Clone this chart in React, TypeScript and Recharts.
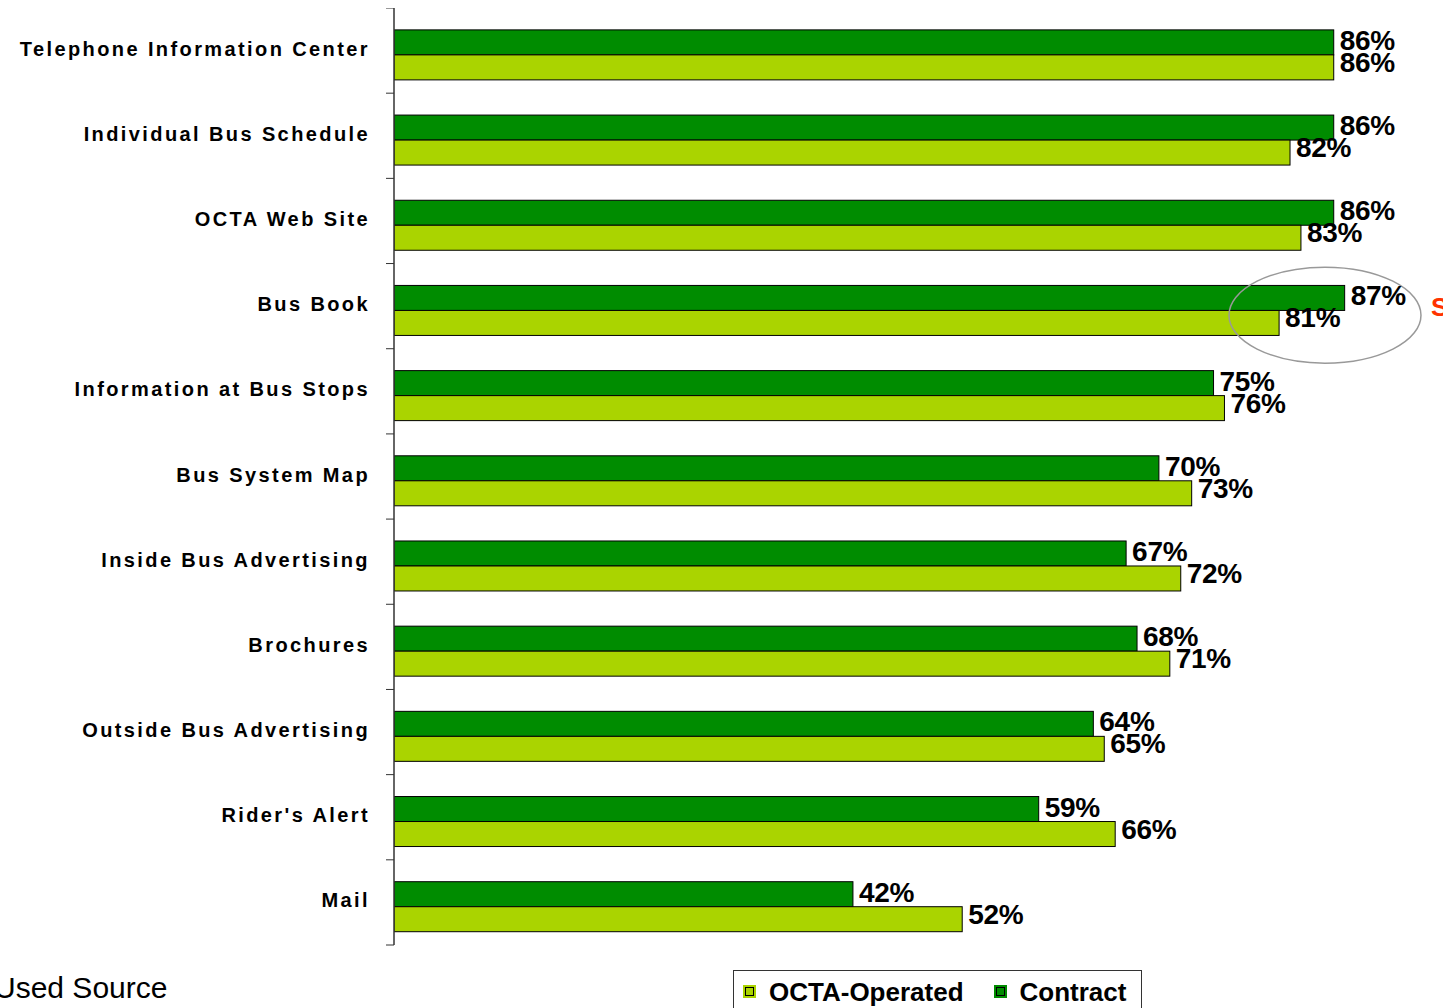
import { BarChart, Bar, XAxis, YAxis, LabelList, ReferenceDot } from "recharts";

const categories = [
  "Telephone Information Center",
  "Individual Bus Schedule",
  "OCTA Web Site",
  "Bus Book",
  "Information at Bus Stops",
  "Bus System Map",
  "Inside Bus Advertising",
  "Brochures",
  "Outside Bus Advertising",
  "Rider's Alert",
  "Mail",
];

const contract = [86, 86, 86, 87, 75, 70, 67, 68, 64, 59, 42];
const octaOperated = [86, 82, 83, 81, 76, 73, 72, 71, 65, 66, 52];

const COLORS = {
  contract: "#008C00",
  octa: "#AAD400",
};

const FONT = '"Liberation Sans", Arial, sans-serif';

const data = categories.map((name, i) => ({
  name,
  contract: contract[i],
  octa: octaOperated[i],
}));

const AXIS_X = 386;
const PLOT_H = 937;
const BAND = PLOT_H / categories.length;
const BAR_SHIFT = 4; // bars sit a little below the band centre in the original

function CategoryTick(props: any) {
  const { y, payload, index } = props;
  const top = y - BAND / 2;
  return (
    <g>
      <line x1={AXIS_X - 8} x2={AXIS_X} y1={top} y2={top} stroke="#333" />
      {index === categories.length - 1 && (
        <line x1={AXIS_X - 8} x2={AXIS_X} y1={top + BAND} y2={top + BAND} stroke="#333" />
      )}
      <text
        x={362}
        y={y - 2}
        textAnchor="end"
        dominantBaseline="central"
        fontFamily={FONT}
        fontWeight="bold"
        fontSize={20}
        letterSpacing={2.4}
        fill="#000"
      >
        {payload.value}
      </text>
    </g>
  );
}

function shiftedBar(props: any) {
  const { x, y, width, height, fill } = props;
  return <rect x={x} y={y + BAR_SHIFT} width={width} height={height} fill={fill} stroke="#000" strokeWidth={1} />;
}

function valueLabel(shift: number) {
  return (props: any) => {
    const { x, y, width, height, value } = props;
    return (
      <text
        x={x + width + 6}
        y={y + height / 2 + BAR_SHIFT + shift}
        dominantBaseline="central"
        fontFamily={FONT}
        fontWeight="bold"
        fontSize={28}
        letterSpacing={-0.3}
        fill="#000"
      >
        {value}%
      </text>
    );
  };
}

function LegendSwatch({ color }: { color: string }) {
  return (
    <span
      style={{
        display: "inline-block",
        width: 9,
        height: 9,
        background: color,
        border: `2px solid ${color}`,
        boxShadow: "inset 0 0 0 1px #000",
        marginRight: 13,
        verticalAlign: "middle",
        position: "relative",
        top: -3,
      }}
    />
  );
}

export default function App() {
  return (
    <div
      style={{
        position: "absolute",
        left: 0,
        top: 0,
        width: 1443,
        height: 1008,
        overflow: "hidden",
        fontFamily: FONT,
      }}
    >
      <div style={{ position: "absolute", left: 8, top: 8 }}>
        <BarChart
          width={1435}
          height={1000}
          data={data}
          layout="vertical"
          margin={{ top: 0, right: 0, bottom: 63, left: 0 }}
          barCategoryGap="21%"
          barGap={0}
        >
          <XAxis type="number" domain={[0, 96]} hide allowDataOverflow />
          <YAxis
            type="category"
            dataKey="name"
            width={AXIS_X}
            axisLine={{ stroke: "#333", strokeWidth: 1.5 }}
            tickLine={false}
            tick={<CategoryTick />}
            interval={0}
          />
          <Bar dataKey="contract" fill={COLORS.contract} shape={shiftedBar} isAnimationActive={false}>
            <LabelList dataKey="contract" content={valueLabel(-2)} />
          </Bar>
          <Bar dataKey="octa" fill={COLORS.octa} shape={shiftedBar} isAnimationActive={false}>
            <LabelList dataKey="octa" content={valueLabel(-5)} />
          </Bar>
          <ReferenceDot
            x={85.2}
            y="Bus Book"
            ifOverflow="visible"
            shape={(p: any) => (
              <ellipse cx={p.cx} cy={p.cy + 9} rx={96} ry={48} fill="none" stroke="#999" strokeWidth={1.5} />
            )}
          />
        </BarChart>
      </div>

      <div
        style={{
          position: "absolute",
          left: 1431,
          top: 292,
          color: "#FF3300",
          fontWeight: "bold",
          fontSize: 26,
        }}
      >
        S
      </div>

      <div style={{ position: "absolute", left: -6, top: 971, fontSize: 30, color: "#000" }}>
        Used Source
      </div>

      <div
        style={{
          position: "absolute",
          left: 733,
          top: 970,
          width: 409,
          height: 50,
          border: "1px solid #333",
          background: "#fff",
          fontWeight: "bold",
          fontSize: 26,
          whiteSpace: "nowrap",
          paddingLeft: 9,
          paddingTop: 6,
          boxSizing: "border-box",
        }}
      >
        <LegendSwatch color={COLORS.octa} />
        <span style={{ marginRight: 30 }}>OCTA-Operated</span>
        <LegendSwatch color={COLORS.contract} />
        <span>Contract</span>
      </div>
    </div>
  );
}
